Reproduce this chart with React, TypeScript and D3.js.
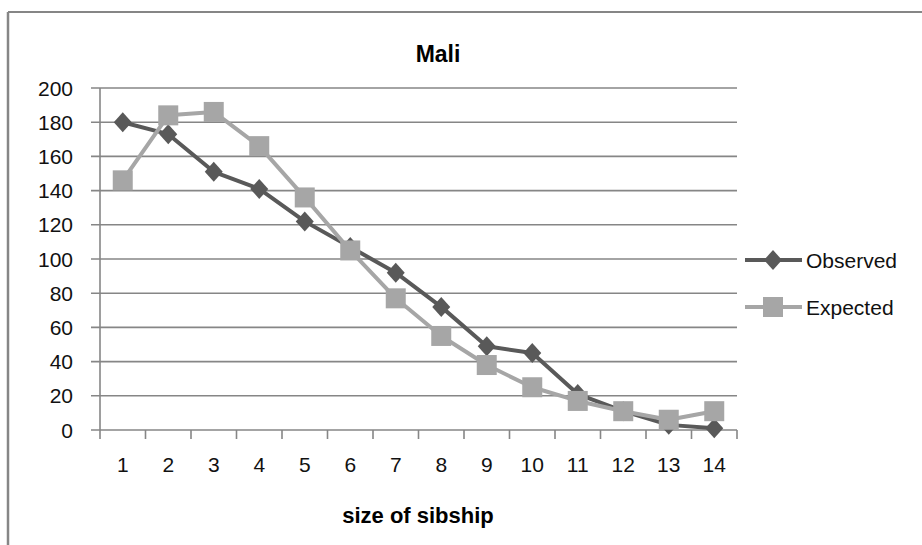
import React from "react";
import * as d3 from "d3";

const categories = ["1", "2", "3", "4", "5", "6", "7", "8", "9", "10", "11", "12", "13", "14"];
const observed = [180, 173, 151, 141, 122, 107, 92, 72, 49, 45, 21, 11, 3, 1];
const expected = [146, 184, 186, 166, 136, 105, 77, 55, 38, 25, 17, 11, 6, 11];
const yTicks = [0, 20, 40, 60, 80, 100, 120, 140, 160, 180, 200];

const W = 922;
const H = 545;
const plot = { left: 100, right: 737, top: 88, bottom: 430 };
const FONT = "'Liberation Sans', Arial, sans-serif";
const AXIS = "#868686";
const OBS = "#595959";
const EXP = "#A6A6A6";

// Wide diamond marker (half-width 9, half-height 10)
const wideDiamond = {
  draw(ctx: any, size: number) {
    const h = Math.sqrt(size) / 2;
    const w = h * 0.9;
    ctx.moveTo(0, -h);
    ctx.lineTo(w, 0);
    ctx.lineTo(0, h);
    ctx.lineTo(-w, 0);
    ctx.closePath();
  },
};

export default function App() {
  const x = d3.scaleBand<string>().domain(categories).range([plot.left, plot.right]);
  const y = d3.scaleLinear().domain([0, 200]).range([plot.bottom, plot.top]);
  const cx = (c: string) => (x(c) as number) + x.bandwidth() / 2;

  const line = d3
    .line<number>()
    .x((_, i) => cx(categories[i]))
    .y((v) => y(v));

  const diamond = d3.symbol().type(wideDiamond as any).size(400)();
  const bounds = categories.map((c) => x(c) as number).concat([plot.right]);

  return (
    <svg
      width={W}
      height={H}
      style={{ position: "absolute", left: 0, top: 0, background: "#fff" }}
    >
      {/* chart frame */}
      <line x1={8} y1={12} x2={W} y2={12} stroke={AXIS} strokeWidth={2} />
      <line x1={8} y1={12} x2={8} y2={H} stroke={AXIS} strokeWidth={2.5} />

      <text x={438} y={62} textAnchor="middle" fontFamily={FONT} fontWeight="bold" fontSize={23}>
        Mali
      </text>

      {/* gridlines and y ticks */}
      {yTicks.map((t) => (
        <g key={t}>
          <line x1={plot.left - 9} x2={plot.right} y1={y(t)} y2={y(t)} stroke={AXIS} strokeWidth={1.6} />
          <text
            x={73}
            y={y(t)}
            dy="0.36em"
            textAnchor="end"
            fontFamily={FONT}
            fontSize={21}
            fill="#111"
          >
            {t}
          </text>
        </g>
      ))}

      {/* axes */}
      <line x1={plot.left} x2={plot.left} y1={plot.top} y2={plot.bottom} stroke={AXIS} strokeWidth={1.6} />
      {bounds.map((b, i) => (
        <line key={i} x1={b} x2={b} y1={plot.bottom} y2={plot.bottom + 9} stroke={AXIS} strokeWidth={1.6} />
      ))}
      {categories.map((c) => (
        <text key={c} x={cx(c)} y={472} textAnchor="middle" fontFamily={FONT} fontSize={21} fill="#111">
          {c}
        </text>
      ))}

      <text x={418} y={523} textAnchor="middle" fontFamily={FONT} fontWeight="bold" fontSize={22}>
        size of sibship
      </text>

      {/* Observed series */}
      <path d={line(observed) || ""} fill="none" stroke={OBS} strokeWidth={4} strokeLinejoin="round" />
      {observed.map((v, i) => (
        <path key={i} d={diamond || ""} transform={`translate(${cx(categories[i])},${y(v)})`} fill={OBS} />
      ))}

      {/* Expected series */}
      <path d={line(expected) || ""} fill="none" stroke={EXP} strokeWidth={4} strokeLinejoin="round" />
      {expected.map((v, i) => (
        <rect key={i} x={cx(categories[i]) - 10} y={y(v) - 10} width={20} height={20} fill={EXP} />
      ))}

      {/* legend */}
      <g>
        <line x1={745} x2={802} y1={260} y2={260} stroke={OBS} strokeWidth={4} />
        <path d={diamond || ""} transform="translate(773,260)" fill={OBS} />
        <text x={806} y={260} dy="0.36em" fontFamily={FONT} fontSize={21} fill="#111">
          Observed
        </text>
        <line x1={745} x2={802} y1={307} y2={307} stroke={EXP} strokeWidth={4} />
        <rect x={763} y={297} width={20} height={20} fill={EXP} />
        <text x={806} y={307} dy="0.36em" fontFamily={FONT} fontSize={21} fill="#111">
          Expected
        </text>
      </g>
    </svg>
  );
}
